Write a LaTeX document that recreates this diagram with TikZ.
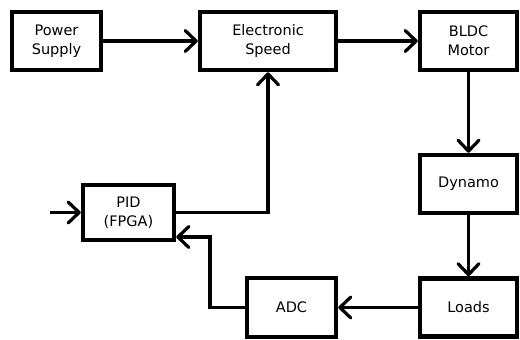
\documentclass[tikz,border=0pt]{standalone}
\usepackage{fontspec}
\setmainfont{DejaVu Sans}
\usepackage{tikz}
\usetikzlibrary{calc,arrows.meta,positioning}
\tikzset{
  ar/.style={-{Straight Barb[length=11pt,width=21pt,line width=3.2pt,round]},line width=3.2pt,black},
  box/.style={draw=black,line width=4.5pt,fill=white,align=center,inner sep=2pt,
    minimum width=97pt,minimum height=58pt,font=\fontsize{14.5}{19}\selectfont}
}
\begin{document}
\begin{tikzpicture}[x=1pt,y=-1pt]
\useasboundingbox (0,0) rectangle (520,340);
\node[box,minimum width=89pt] (ps) at (56.5,41) {Power\\Supply};
\node[box,minimum width=136pt] (esc) at (268,41) {Electronic\\Speed};
\node[box] (bldc) at (468.5,41) {BLDC\\Motor};
\node[box] (dyn) at (468.5,184) {Dynamo};
\node[box] (loads) at (468.5,307.5) {Loads};
\node[box,minimum width=89pt,minimum height=59pt] (adc) at (291.5,307.5) {ADC};
\node[box,minimum width=91pt,minimum height=55pt] (pid) at (128.5,212.5) {PID\\(FPGA)};
\coordinate (in) at (50,212.5);
\coordinate (fb) at (210,237);
\draw[ar] (ps) -- (esc);
\draw[ar] (esc) -- (bldc);
\draw[ar] (bldc) -- (dyn);
\draw[ar] (dyn) -- (loads);
\draw[ar] (loads) -- (adc);
\draw[ar] (adc.west) -| (fb) -- (fb -| pid.east);
\draw[ar] (pid.east) -| (esc.south);
\draw[ar] (in) -- (pid.west);
\end{tikzpicture}
\end{document}
